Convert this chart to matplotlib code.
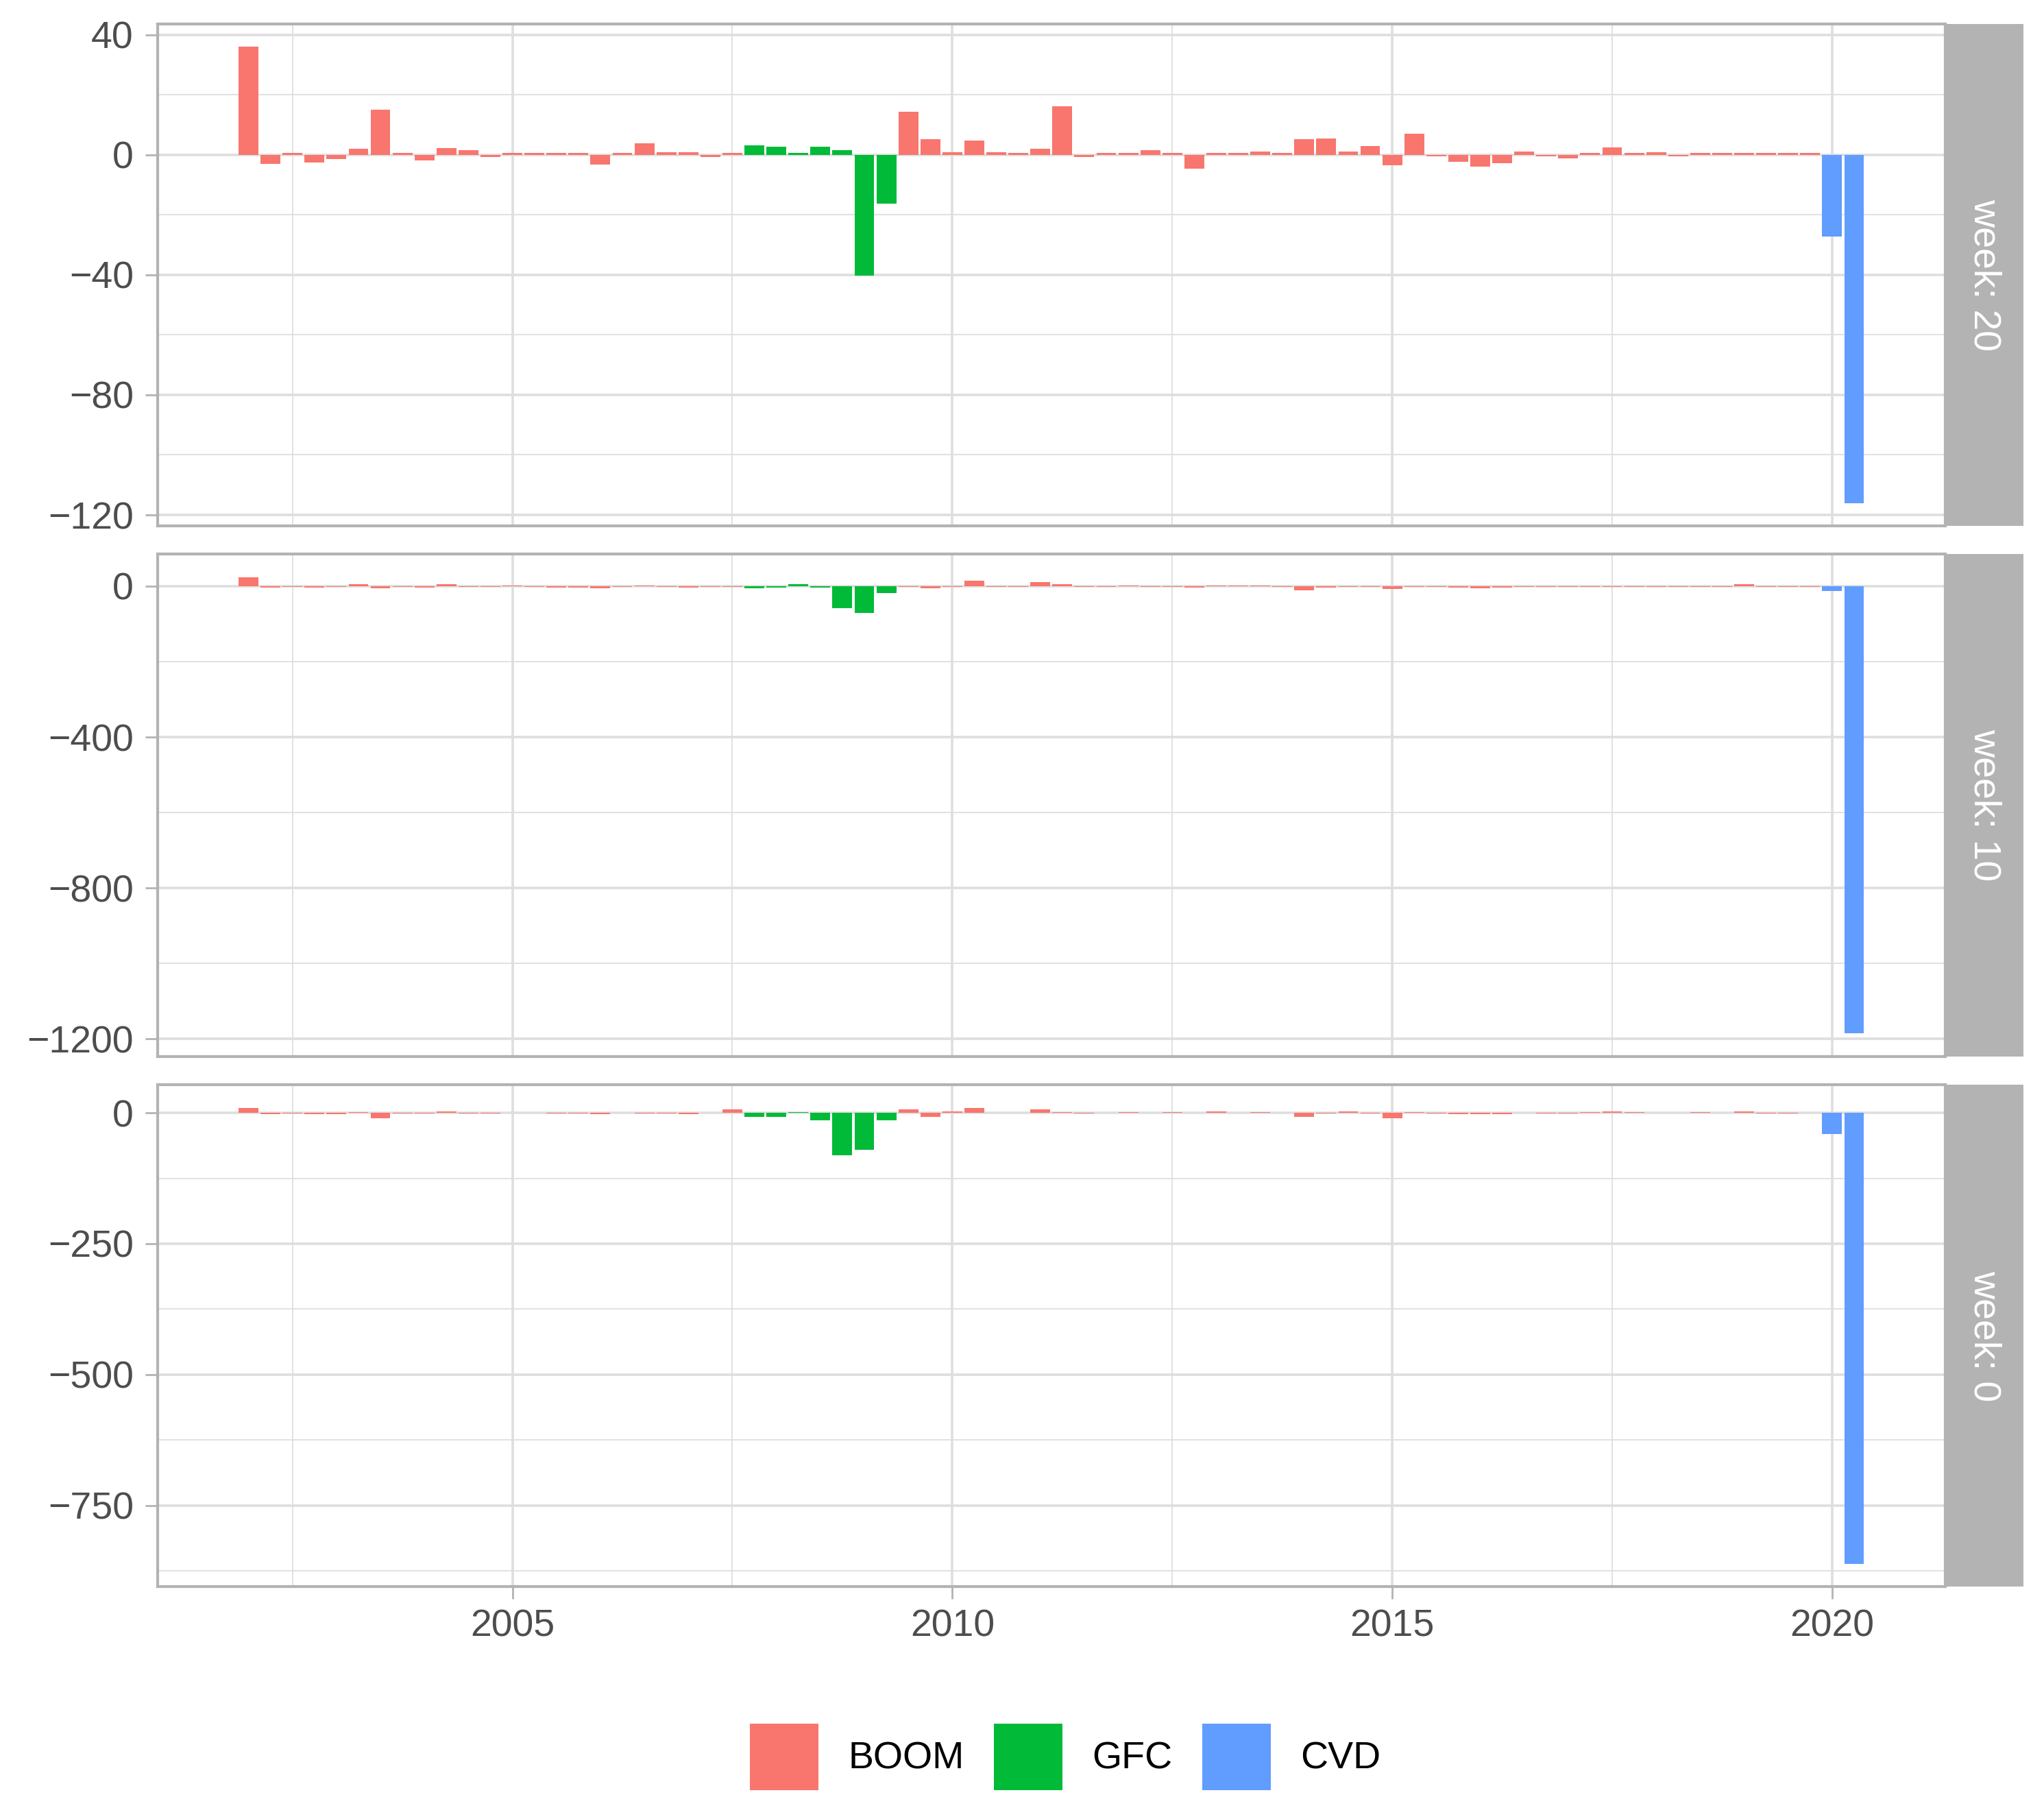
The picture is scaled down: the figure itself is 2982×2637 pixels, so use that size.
import numpy as np
import pandas as pd
import matplotlib
matplotlib.use("Agg")
import matplotlib.pyplot as plt
from matplotlib.patches import Patch
from matplotlib.ticker import MultipleLocator, AutoMinorLocator, FormatStrFormatter

plt.rcParams["font.family"] = ["Liberation Sans", "DejaVu Sans"]

# quarterly observations 2002Q1 .. 2020Q2
quarters = pd.period_range("2002Q1", "2020Q2", freq="Q")
gfc_quarters = pd.period_range("2007Q4", "2009Q2", freq="Q")
cvd_quarters = pd.period_range("2020Q1", "2020Q2", freq="Q")

period_names = ["BOOM", "GFC", "CVD"]
period_colors = {"BOOM": "#F8766D", "GFC": "#00BA38", "CVD": "#619CFF"}

weeks = [20, 10, 0]

week20 = [
    36, -3, 0.5, -2.5,
    -1.5, 2, 15, 0.5,
    -2, 2.3, 1.5, -0.8,
    0.6, 0.5, 0.5, 0.6,
    -3.2, 0.5, 3.8, 0.9,
    0.9, -0.7, 0.5, 3.2,
    2.7, 0.5, 2.7, 1.5,
    -40.2, -16.2, 14.4, 5.1,
    0.9, 4.7, 0.9, 0.5,
    2.0, 16.2, -0.8, 0.5,
    0.5, 1.6, 0.5, -4.7,
    0.5, 0.5, 1.1, 0.5,
    5.2, 5.5, 1.1, 2.9,
    -3.6, 7.0, -0.6, -2.3,
    -4.0, -2.9, 1.1, -0.6,
    -1.3, 0.5, 2.4, 0.5,
    0.8, -0.6, 0.5, 0.5,
    0.5, 0.5, 0.5, 0.5,
    -27.2, -116,
]

week10 = [
    24, -4, -2, -4,
    -2, 6, -6, -2,
    -4, 6, -2, -2,
    1, -2, -4, -4,
    -5, -2, 1, -2,
    -4, -2, -2, -5,
    -4, 6, -4, -58,
    -70, -18, -2, -5,
    -2, 15, -2, -2,
    11, 6, -2, -2,
    1, -2, -2, -4,
    1, 1, 1, -2,
    -11, -4, -2, -2,
    -8, -2, -2, -4,
    -5, -4, -2, -2,
    -2, -2, -2, -2,
    -2, -2, -2, -2,
    6, -2, -2, -2,
    -13, -1185,
]

week0 = [
    10, -3, -1.5, -3,
    -3, 2, -10.4, -1.5,
    -1.5, 3, -1.5, -1.5,
    0, 0, -1.5, -1.5,
    -3, 0, -1.5, -1.5,
    -3, 0, 7, -7,
    -7, 2, -13.5, -81,
    -71, -13.5, 7, -7,
    3, 9, 0, 0,
    7, 2, -1.5, 0,
    2, 0, 2, 0,
    3, 0, 2, 0,
    -7, -1.5, 3, -1.5,
    -10, 2, -1.5, -3,
    -3, -3, 0, -1.5,
    -1.5, 2, 3, 2,
    0, 0, 2, 0,
    3, -1.5, -1.5, 0,
    -41, -862,
]

series = {20: week20, 10: week10, 0: week0}
major_step = {20: 40, 10: 400, 0: 250}

x = quarters.year.values + (quarters.quarter.values - 1) / 4
period = np.array(["GFC" if q in gfc_quarters else "CVD" if q in cvd_quarters else "BOOM"
                   for q in quarters])
bar_w = 0.9 * 0.25

W, H = 2982, 2637
fig = plt.figure(figsize=(W / 200, H / 200), dpi=200)

left = 229.5 / W
pw = (2838 - 229.5) / W
sx = 2838 / W
sw = (2952 - 2838) / W
ph = 732 / H
bottoms = [1 - 766.8 / H, 1 - 1540.5 / H, 1 - 2314.3 / H]

xlo, xhi = x.min() - bar_w / 2, x.max() + bar_w / 2
xpad = 0.05 * (xhi - xlo)

grey70 = "#B3B3B3"
for i, wk in enumerate(weeks):
    vals = np.array(series[wk], dtype=float)
    ax = fig.add_axes([left, bottoms[i], pw, ph])
    ax.set_axisbelow(True)
    for p in period_names:
        m = period == p
        ax.bar(x[m], vals[m], width=bar_w, color=period_colors[p], linewidth=0)

    ax.set_xlim(xlo - xpad, xhi + xpad)
    lo, hi = min(vals.min(), 0), max(vals.max(), 0)
    ypad = 0.05 * (hi - lo)
    ax.set_ylim(lo - ypad, hi + ypad)

    ax.xaxis.set_major_locator(MultipleLocator(5))
    ax.xaxis.set_minor_locator(AutoMinorLocator(2))
    ax.xaxis.set_major_formatter(FormatStrFormatter("%d"))
    ax.yaxis.set_major_locator(MultipleLocator(major_step[wk]))
    ax.yaxis.set_minor_locator(AutoMinorLocator(2))

    ax.grid(which="major", color="#DEDEDE", linewidth=1.3)
    ax.grid(which="minor", color="#DEDEDE", linewidth=0.65)
    for s in ax.spines.values():
        s.set_color(grey70)
        s.set_linewidth(1.5)

    ax.tick_params(which="major", length=6.5, width=1.0, color=grey70,
                   labelcolor="#4D4D4D", labelsize=20)
    ax.tick_params(which="minor", length=0)
    ax.tick_params(axis="y", pad=6)
    ax.tick_params(axis="x", pad=5)
    if i < 2:
        ax.tick_params(axis="x", which="both", bottom=False, labelbottom=False)

    # facet strip
    st = fig.add_axes([sx, bottoms[i], sw, ph])
    st.set_facecolor(grey70)
    st.set_xticks([])
    st.set_yticks([])
    for s in st.spines.values():
        s.set_visible(False)
    st.text(0.5, 0.5, f"week: {wk}", rotation=-90, color="white", fontsize=20,
            ha="center", va="center", transform=st.transAxes)

handles = [Patch(facecolor=period_colors[p], edgecolor="none", label=p) for p in period_names]
fig.legend(handles=handles, loc="center", bbox_to_anchor=(0.5213, 0.0282), ncol=3,
           frameon=False, fontsize=20, handlelength=1.8, handleheight=2.3,
           handletextpad=0.78, columnspacing=0.78, borderpad=0, borderaxespad=0)

fig.savefig("out.png", dpi=200)
